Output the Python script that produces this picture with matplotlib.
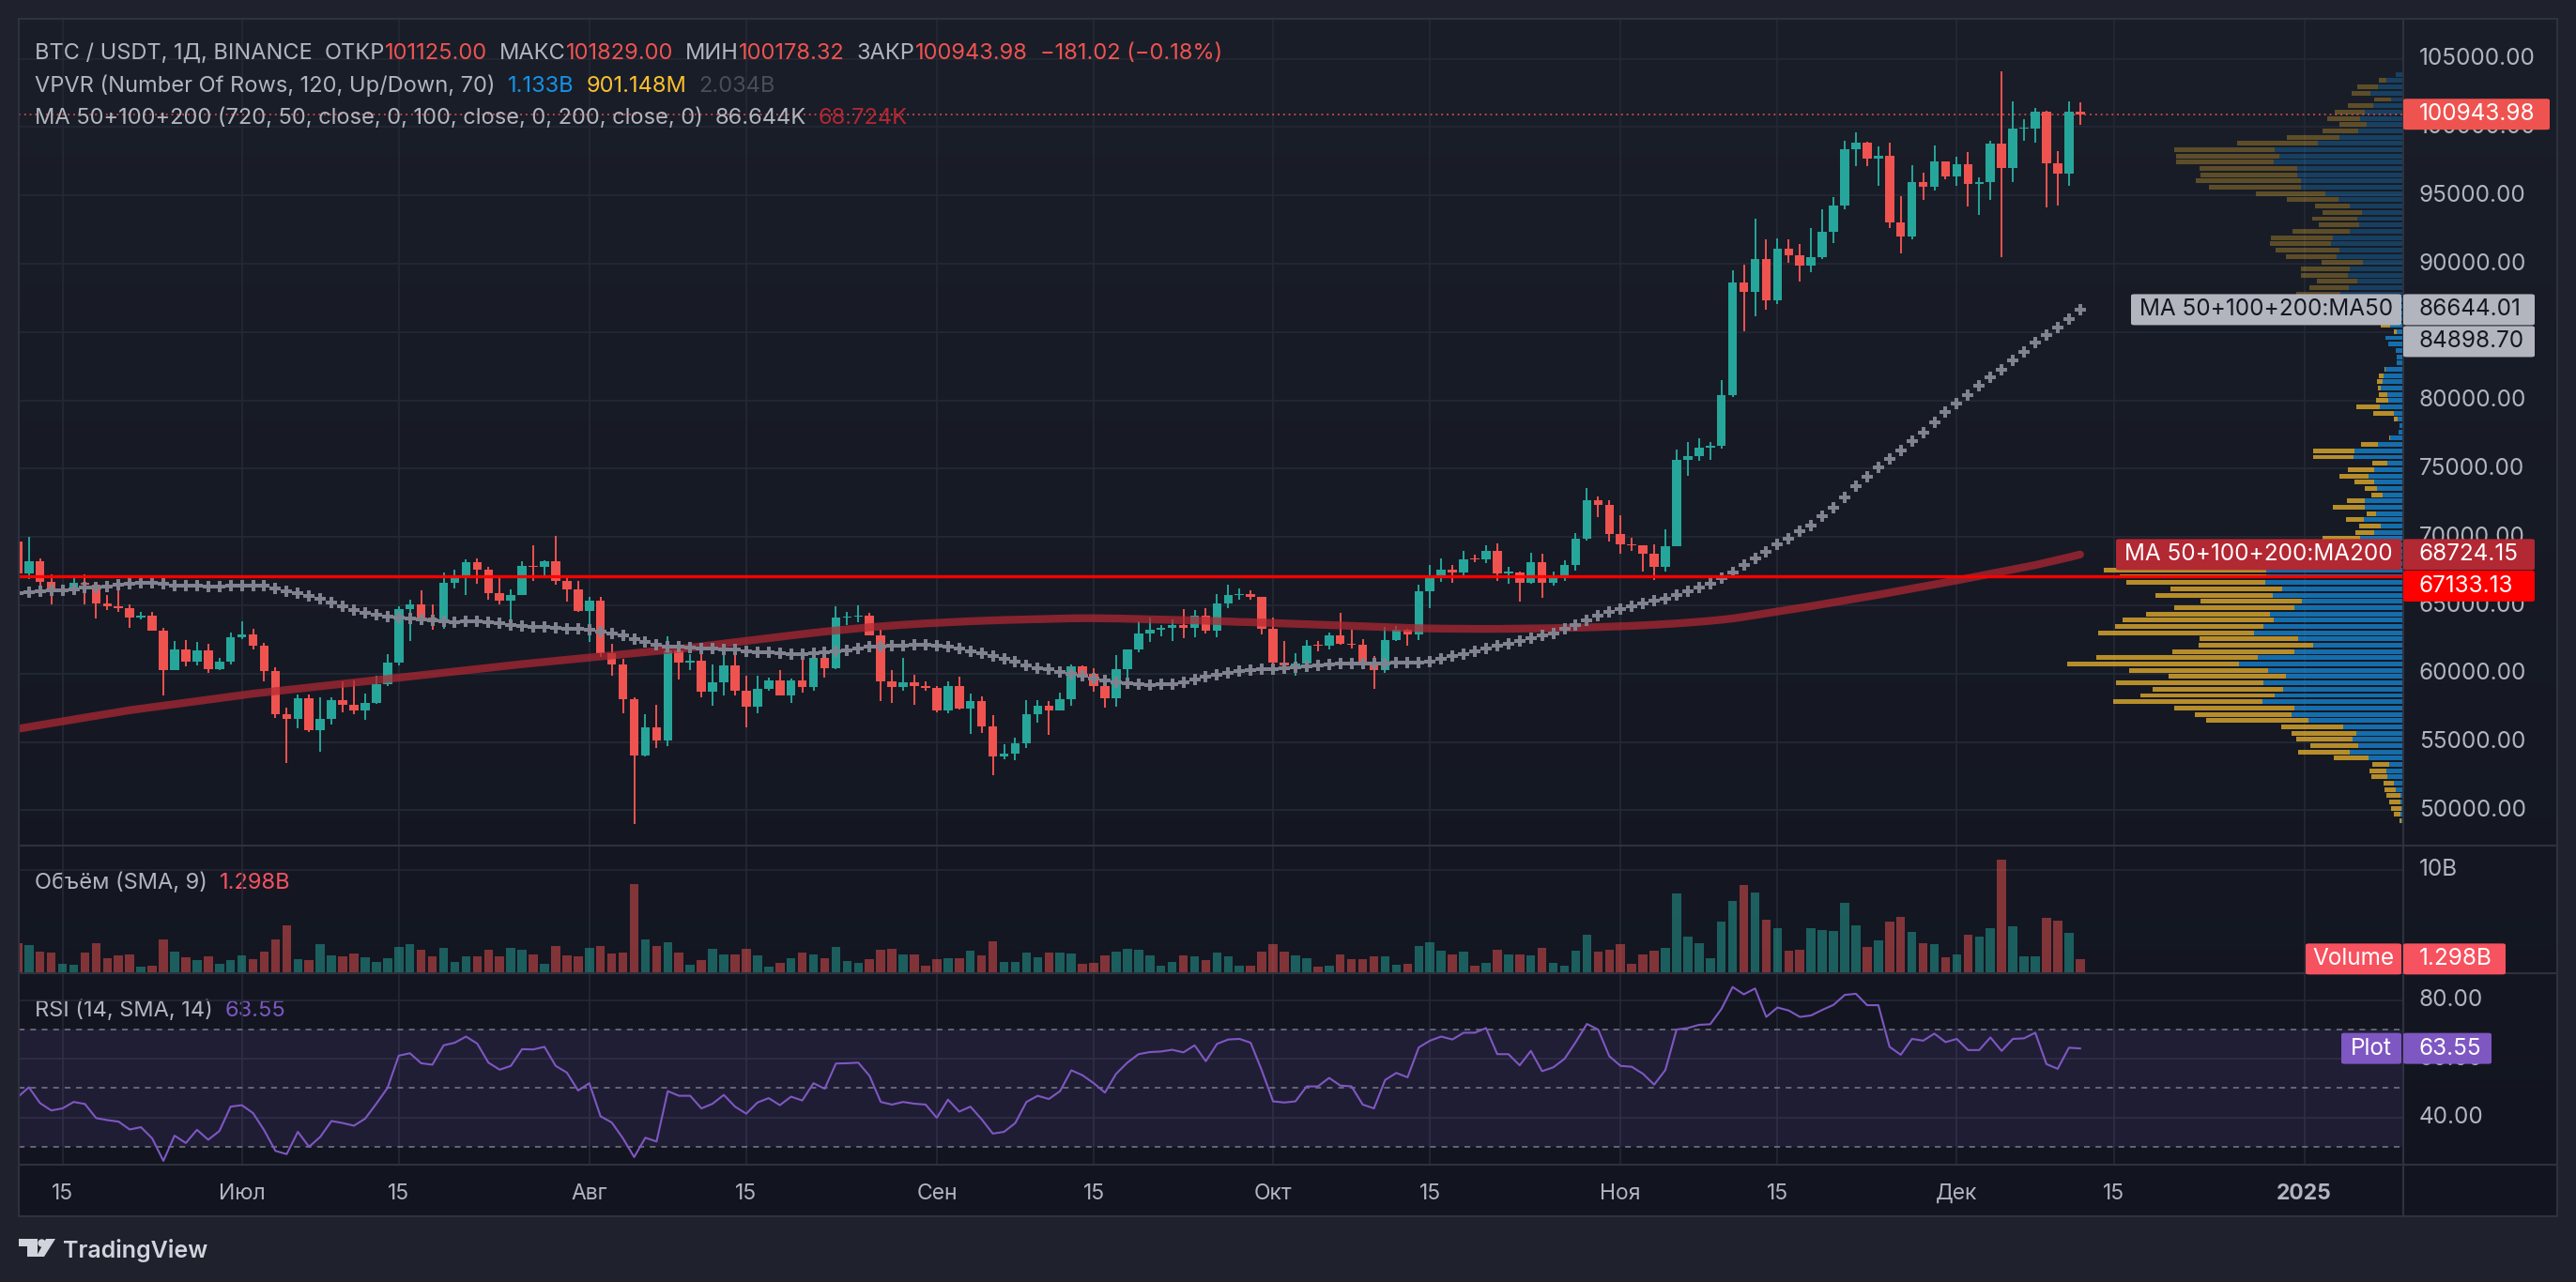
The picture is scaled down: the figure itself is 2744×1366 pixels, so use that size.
import numpy as np
import matplotlib
matplotlib.use("Agg")
import matplotlib.pyplot as plt
from matplotlib.colors import LinearSegmentedColormap, to_rgba
from matplotlib.patches import FancyBboxPatch, Rectangle, Circle, Polygon
from matplotlib.lines import Line2D
import matplotlib.transforms as mtransforms

plt.rcParams['font.family'] = ['Inter', 'DejaVu Sans']

# ---------------- data (BTC/USDT 1D, Binance, 11 Jun - 12 Dec 2024) ----------------
opens = [69650, 67320, 68240, 66750, 66000, 66190, 66640, 66490, 65150, 64960,
         64830, 64100, 64250, 63180, 60280, 61800, 60860, 61680, 60320, 60890,
         62680, 62850, 62030, 60200, 57030, 56660, 58230, 55860, 56710, 58050,
         57720, 57340, 57890, 59200, 60790, 64720, 65040, 64090, 63980, 66660,
         67150, 68170, 67580, 65930, 65370, 65780, 67900, 67810, 68250, 66780,
         66190, 64620, 65350, 61500, 60700, 58160, 54020, 56040, 55130, 61700,
         60840, 60920, 58710, 59350, 60600, 58740, 57560, 58870, 59490, 58440,
         59490, 59010, 61160, 60380, 64090, 64180, 64250, 62830, 59420, 59030,
         59370, 59120, 58970, 57300, 59130, 57480, 57970, 56160, 53960, 54160,
         54880, 57050, 57650, 57340, 58130, 60570, 60000, 59130, 58210, 60310,
         61760, 62950, 63200, 63350, 63580, 63340, 64260, 63150, 65170, 65770,
         65860, 65600, 63300, 60800, 60630, 60750, 62080, 62060, 62820, 62220,
         62130, 60580, 60270, 62450, 63190, 62850, 66050, 67040, 67610, 67400,
         68400, 68360, 69000, 67370, 67380, 66650, 68160, 66640, 67010, 67930,
         69900, 72720, 72340, 70220, 69500, 69370, 68780, 67810, 69360, 75640,
         75900, 76540, 76700, 80370, 88650, 87950, 90380, 87330, 91070, 90590,
         89860, 90460, 92310, 94290, 98370, 98890, 97670, 97900, 93010, 91970,
         95950, 95640, 97460, 96410, 97280, 95860, 96000, 98770, 97000, 99870,
         99920, 101110, 97340, 96590, 101125.00]
highs = [69700, 69990, 68450, 67300, 66400, 66990, 67250, 66560, 65730, 66480,
         65070, 64530, 64500, 63370, 62360, 62480, 62290, 62200, 61130, 63000,
         63850, 63290, 62250, 60500, 57500, 58470, 58450, 58240, 58300, 59470,
         59500, 58530, 59850, 61420, 64900, 65390, 66130, 65100, 67390, 67600,
         68370, 68470, 67810, 67100, 66180, 68240, 69400, 68320, 70080, 66990,
         66800, 65600, 65600, 62200, 61120, 58300, 57040, 57700, 62750, 61800,
         61460, 61860, 60680, 61570, 61800, 59850, 59820, 59690, 60280, 59620,
         61400, 61820, 61420, 64960, 64520, 65000, 64480, 63210, 60230, 61190,
         59940, 59460, 59070, 59430, 59810, 58520, 58330, 56990, 54850, 55320,
         58090, 58040, 57990, 58590, 60670, 60640, 60380, 59210, 61370, 61790,
         63850, 64130, 63560, 64000, 64750, 64690, 64810, 65840, 66500, 66260,
         66080, 65620, 64130, 62390, 61470, 62480, 62370, 62980, 64480, 63200,
         62540, 61320, 63420, 63480, 63290, 66500, 67950, 68420, 67940, 68970,
         68690, 69400, 69520, 67840, 67470, 68840, 68770, 67450, 68330, 70270,
         73620, 72960, 72700, 71630, 69920, 69400, 69490, 70580, 76400, 76950,
         77250, 76950, 81500, 89530, 89940, 93270, 91800, 91850, 91780, 91450,
         92600, 94000, 94900, 98990, 99590, 98900, 98590, 98870, 94970, 97200,
         96650, 98690, 97460, 97840, 98150, 96300, 99000, 104088, 101900, 100550,
         101400, 101200, 98270, 101900, 101829.00]
lows = [66050, 66900, 66300, 65060, 65870, 66000, 65070, 64060, 64690, 64500,
        63380, 63940, 63150, 58400, 60240, 60570, 60630, 60060, 60280, 60680,
        62500, 61760, 59410, 56770, 53485, 56020, 55720, 54260, 56290, 57160,
        57050, 56590, 57770, 59080, 60630, 62380, 63800, 63220, 63300, 66220,
        65730, 66600, 65440, 65100, 63460, 65740, 66800, 67050, 66480, 65300,
        64520, 62300, 61200, 59850, 57120, 49000, 53960, 54560, 54710, 59570,
        60270, 58300, 57640, 58400, 58430, 56080, 57100, 58780, 58420, 57860,
        58610, 58780, 59720, 60350, 63580, 63780, 62800, 58030, 57860, 58780,
        57700, 58740, 57200, 57120, 57410, 55600, 55650, 52550, 53740, 53640,
        54590, 56390, 55550, 57320, 57630, 59420, 58700, 57490, 57610, 59170,
        61560, 62350, 62760, 62360, 62600, 62700, 62950, 62670, 64820, 65420,
        65420, 62860, 60160, 59980, 59830, 60460, 61670, 61800, 62130, 61830,
        60300, 58900, 60050, 62410, 62030, 62440, 64800, 66750, 66660, 67160,
        68160, 68100, 66760, 66570, 65260, 66550, 65520, 66450, 66800, 67530,
        69730, 71440, 69680, 68780, 69020, 67460, 66830, 67450, 69300, 74500,
        75550, 75680, 76490, 80220, 85070, 86130, 86670, 87080, 90060, 88720,
        89380, 90380, 91500, 94000, 97180, 97130, 95730, 92600, 90790, 91820,
        94650, 95360, 96160, 95690, 94200, 93580, 94660, 90500, 95980, 98990,
        98840, 94150, 94260, 95680, 100178.32]
closes = [67320, 68240, 66750, 66000, 66190, 66640, 66490, 65150, 64960, 64830,
          64100, 64250, 63180, 60280, 61800, 60860, 61680, 60320, 60890, 62680,
          62850, 62030, 60200, 57030, 56660, 58230, 55860, 56710, 58050, 57720,
          57340, 57890, 59200, 60790, 64720, 65040, 64090, 63980, 66660, 67150,
          68170, 67580, 65930, 65370, 65780, 67900, 67810, 68250, 66780, 66190,
          64620, 65350, 61500, 60700, 58160, 54020, 56040, 55130, 61700, 60840,
          60920, 58710, 59350, 60600, 58740, 57560, 58870, 59490, 58440, 59490,
          59010, 61160, 60380, 64090, 64180, 64250, 62830, 59420, 59030, 59370,
          59120, 58970, 57300, 59130, 57480, 57970, 56160, 53960, 54160, 54880,
          57050, 57650, 57340, 58130, 60570, 60000, 59130, 58210, 60310, 61760,
          62950, 63200, 63350, 63580, 63340, 64260, 63150, 65170, 65770, 65860,
          65600, 63300, 60800, 60630, 60750, 62080, 62060, 62820, 62220, 62130,
          60580, 60270, 62450, 63190, 62850, 66050, 67040, 67610, 67400, 68400,
          68360, 69000, 67370, 67380, 66650, 68160, 66640, 67010, 67930, 69900,
          72720, 72340, 70220, 69500, 69370, 68780, 67810, 69360, 75640, 75900,
          76540, 76700, 80370, 88650, 87950, 90380, 87330, 91070, 90590, 89860,
          90460, 92310, 94290, 98370, 98890, 97670, 97900, 93010, 91970, 95950,
          95640, 97460, 96410, 97280, 95860, 96000, 98770, 97000, 99870, 99920,
          101110, 97340, 96590, 101125, 100943.98]
# volume in billions
volume_b = [2.84, 2.65, 2.0, 1.92, 0.82, 0.76, 1.92, 2.84, 1.37, 1.68,
            1.74, 0.55, 0.64, 3.2, 2.0, 1.46, 1.19, 1.55, 0.82, 1.19,
            1.65, 1.28, 2.0, 3.2, 4.57, 1.28, 1.19, 2.74, 1.65, 1.55,
            1.83, 1.46, 1.0, 1.37, 2.47, 2.74, 2.2, 1.55, 2.38, 1.0,
            1.55, 1.55, 2.2, 1.55, 2.38, 2.2, 1.74, 0.82, 2.56, 1.65,
            1.55, 2.38, 2.56, 1.83, 1.92, 8.6, 3.2, 2.56, 2.93, 1.92,
            0.73, 1.19, 2.29, 1.74, 1.74, 2.29, 1.65, 0.55, 0.91, 1.37,
            1.92, 1.74, 1.37, 2.47, 1.1, 0.91, 1.28, 2.2, 2.29, 1.74,
            1.74, 0.64, 1.28, 1.37, 1.37, 2.1, 1.65, 3.02, 1.0, 1.0,
            1.92, 1.46, 1.92, 1.92, 1.83, 0.82, 0.91, 1.65, 2.0, 2.29,
            2.2, 1.65, 0.64, 1.0, 1.65, 1.55, 1.19, 1.92, 1.55, 0.64,
            0.64, 2.0, 2.74, 2.0, 1.65, 1.37, 0.55, 0.64, 1.74, 1.28,
            1.28, 1.55, 1.55, 0.73, 0.82, 2.56, 2.93, 2.1, 1.74, 2.0,
            0.64, 0.91, 2.2, 1.74, 1.74, 1.65, 2.38, 0.91, 0.64, 2.1,
            3.66, 2.0, 2.2, 2.74, 0.82, 1.74, 2.1, 2.38, 7.68, 3.48,
            2.84, 1.37, 4.94, 6.95, 8.5, 7.77, 5.12, 4.3, 2.1, 2.2,
            4.3, 4.12, 4.02, 6.77, 4.57, 2.47, 3.11, 4.94, 5.4, 3.93,
            2.84, 2.74, 1.46, 1.74, 3.66, 3.48, 4.3, 10.98, 4.48, 1.55,
            1.55, 5.3, 5.03, 3.84, 1.298]
rsi = [46.9, 50.3, 44.9, 42.4, 43.1, 45.3, 44.6, 39.8, 39.1, 38.6,
       35.9, 36.7, 32.9, 25.2, 33.8, 31.3, 35.8, 32.4, 35.4, 43.7,
       44.2, 41.5, 35.6, 28.6, 27.5, 35.1, 30.0, 33.4, 38.8, 38.1,
       37.2, 39.6, 44.7, 50.1, 61.1, 61.9, 58.5, 58.0, 64.6, 65.5,
       67.6, 65.2, 58.7, 56.3, 57.6, 63.3, 63.2, 64.1, 57.6, 55.3,
       49.2, 51.7, 40.4, 38.3, 32.9, 26.5, 33.1, 31.8, 49.0, 47.4,
       47.4, 43.1, 44.7, 47.7, 43.7, 41.3, 45.1, 46.6, 44.2, 47.1,
       45.8, 51.7, 49.8, 58.4, 58.5, 58.7, 54.2, 45.3, 44.4, 45.3,
       44.7, 44.4, 39.9, 46.1, 42.0, 43.7, 39.4, 34.5, 35.1, 38.1,
       45.3, 47.4, 46.3, 49.0, 56.1, 54.4, 51.7, 48.5, 54.9, 58.7,
       61.6, 62.3, 62.5, 63.1, 62.2, 64.6, 59.2, 65.1, 66.6, 66.8,
       65.5, 56.0, 45.5, 45.1, 45.5, 50.6, 50.6, 53.5, 50.9, 50.6,
       44.4, 43.1, 52.8, 55.2, 53.7, 63.9, 66.2, 67.6, 66.6, 68.9,
       68.9, 70.5, 61.6, 61.6, 57.8, 62.7, 55.8, 57.1, 60.0, 65.7,
       71.9, 70.0, 60.9, 57.6, 57.3, 54.9, 51.2, 56.2, 70.0, 70.5,
       71.6, 71.8, 77.0, 84.5, 82.0, 84.0, 74.3, 77.5, 76.5, 74.3,
       74.8, 76.7, 78.4, 81.8, 82.2, 78.3, 78.3, 64.1, 61.4, 66.8,
       66.2, 68.6, 65.7, 66.8, 63.0, 63.0, 67.3, 62.7, 66.8, 67.0,
       68.9, 58.2, 56.6, 63.8, 63.55]
ma50 = [65900, 65940, 66000, 66100, 66120, 66190, 66280, 66330, 66390, 66510,
        66550, 66620, 66640, 66580, 66460, 66420, 66420, 66370, 66370, 66440,
        66460, 66460, 66450, 66230, 66050, 65890, 65710, 65480, 65210, 64910,
        64680, 64450, 64290, 64180, 64130, 64040, 63950, 63900, 63840, 63790,
        63810, 63810, 63770, 63680, 63560, 63490, 63450, 63450, 63380, 63310,
        63270, 63200, 63080, 62950, 62810, 62560, 62310, 62120, 62010, 61960,
        61900, 61850, 61830, 61800, 61760, 61670, 61600, 61550, 61510, 61440,
        61440, 61480, 61550, 61670, 61710, 61850, 61960, 62010, 62060, 62060,
        62120, 62120, 62060, 62010, 61850, 61670, 61480, 61320, 61100, 60870,
        60640, 60410, 60300, 60140, 59960, 59840, 59660, 59500, 59380, 59270,
        59250, 59160, 59200, 59250, 59380, 59610, 59770, 59950, 60070, 60170,
        60240, 60310, 60360, 60400, 60490, 60540, 60630, 60700, 60770, 60770,
        60770, 60770, 60770, 60780, 60780, 60790, 60860, 61090, 61270, 61450,
        61640, 61840, 62030, 62190, 62370, 62600, 62780, 62940, 63290, 63580,
        63900, 64250, 64500, 64730, 64920, 65130, 65330, 65510, 65780, 66040,
        66310, 66600, 66970, 67400, 67930, 68420, 68910, 69450, 69910, 70450,
        70870, 71500, 72120, 72900, 73760, 74420, 75100, 75710, 76320, 76990,
        77670, 78400, 79140, 79750, 80410, 81090, 81700, 82240, 82930, 83540,
        84220, 84760, 85320, 85980, 86644.01]
ma200 = [55960, 56100, 56240, 56380, 56510, 56650, 56790, 56920, 57060, 57190,
         57330, 57440, 57550, 57660, 57770, 57880, 57990, 58100, 58210, 58320,
         58430, 58540, 58630, 58720, 58810, 58900, 58990, 59080, 59170, 59260,
         59350, 59440, 59530, 59620, 59710, 59800, 59890, 59980, 60070, 60160,
         60250, 60340, 60430, 60520, 60610, 60700, 60780, 60860, 60940, 61020,
         61100, 61180, 61260, 61340, 61420, 61500, 61580, 61660, 61740, 61820,
         61900, 62000, 62100, 62200, 62300, 62400, 62500, 62600, 62700, 62800,
         62900, 62990, 63080, 63160, 63240, 63320, 63400, 63460, 63520, 63580,
         63630, 63680, 63720, 63760, 63800, 63840, 63870, 63900, 63930, 63950,
         63970, 63990, 64010, 64030, 64050, 64060, 64060, 64050, 64040, 64020,
         64000, 63980, 63960, 63940, 63920, 63900, 63880, 63850, 63820, 63790,
         63770, 63740, 63710, 63680, 63650, 63620, 63590, 63560, 63530, 63500,
         63470, 63440, 63410, 63380, 63350, 63330, 63310, 63300, 63290, 63290,
         63280, 63280, 63280, 63290, 63300, 63310, 63320, 63330, 63350, 63370,
         63390, 63410, 63440, 63470, 63500, 63540, 63580, 63630, 63680, 63740,
         63800, 63870, 63950, 64040, 64160, 64290, 64420, 64550, 64680, 64810,
         64940, 65080, 65220, 65360, 65500, 65640, 65780, 65930, 66080, 66230,
         66380, 66530, 66680, 66830, 66990, 67150, 67310, 67470, 67630, 67790,
         67950, 68140, 68330, 68520, 68724.15]
# VPVR: 120 rows from lowest low to highest high, bottom -> top (relative volume)
vp_up = [1.7, 2.7, 1.7, 3.3, 3.3, 7.7, 10, 16, 17, 14.3,
         35.7, 54.7, 46, 51.7, 48, 61.3, 97.3, 114, 111.3, 144,
         131.3, 122.7, 143, 120, 138.3, 168, 148.7, 111.3, 92.3, 108,
         152.7, 143, 132.3, 136.3, 111.3, 103.7, 133.3, 123.7, 141, 140,
         140, 130, 110, 90, 60, 44, 29.3, 22.7, 40.3, 27.7,
         39.3, 39.3, 20.7, 26.7, 29.7, 35.3, 29.7, 16, 50.7, 49.7,
         25.7, 13.3, 4.7, 3.7, 5.7, 10, 24, 15.7, 16.7, 22.7,
         21, 20, 18, 6.7, 6.7, 7.7, 15.3, 18, 6.7, 13,
         18, 22, 28, 40, 64.3, 55.7, 47, 56.7, 54.7, 41,
         68, 65, 73.7, 72, 54.7, 45, 47, 42, 54.7, 66,
         79.7, 104.7, 104.7, 108.3, 108.3, 132.3, 126.7, 131.3, 87.3, 65,
         46, 37.3, 44, 39.3, 30.7, 12.3, 33.3, 25.7, 17, 7.7]
vp_down = [2.6, 7.3, 10.6, 11.0, 13.7, 11.3, 10.0, 16.3, 17.3, 17.4,
           35.3, 52.6, 49.0, 57.6, 66.0, 63.4, 104.4, 99.0, 123.0, 152.7,
           137.7, 133.6, 150.7, 120.0, 142.0, 175.7, 165.3, 125.0, 117.0, 100.3,
           159.3, 151.7, 154.7, 126.7, 123.0, 103.6, 120.0, 114.3, 142.3, 150,
           166.3, 140, 120, 90, 60, 38.3, 19.4, 22.3, 18.0, 9.6,
           32.7, 18.0, 11.6, 12.6, 20.0, 29.7, 27.0, 15.7, 41.3, 42.3,
           17.3, 1.0, 0, 0, 3.6, 20.7, 24, 12, 8, 3,
           5.7, 4.7, 1, 0, 0, 0, 0, 0, 2.6, 9.7,
           12, 18, 22, 30, 45, 40.3, 41.3, 48, 50, 42.3,
           52, 66, 62.3, 63.3, 58.6, 41.3, 46, 40.3, 35.3, 53,
           71, 94, 107.3, 99, 100, 100, 105.6, 103, 82.7, 54,
           36.3, 27.7, 33.7, 30.7, 26, 17.4, 19.4, 21.3, 7.7, 0]
vp_value_area_top = 83          # rows above this index are outside the value area
level_price = 67133.13          # horizontal line
ma100_last = 84898.70
price_ticks = [50000, 55000, 60000, 65000, 70000, 75000, 80000, 85000, 90000, 95000, 100000, 105000]
price_ticks_hidden = [85000]    # label fully covered by the MA tags
time_ticks = [4, 20, 34, 51, 65, 82, 96, 112, 126, 143, 157, 173, 187, 204]
time_labels = ["15", "Июл", "15", "Авг", "15", "Сен", "15", "Окт", "15", "Ноя", "15", "Дек", "15", "2025"]

# ---------------- layout (pixels) ----------------
W, H = 2744, 1366
FR_L, FR_T, FR_R, FR_B = 20, 20, 2724, 1296
PANE_R = 2560
P_B, V_B, R_B = 901, 1037, 1241
AX_TXT = 2577
PX_PER_BAR = 11.94

TXT = '#b2b5be'
GRID = '#252935'
SEP = '#2e323e'
UP, DN = '#26a69a', '#ef5350'

fig = plt.figure(figsize=(W / 100, H / 100), dpi=100)
fig.patch.set_facecolor('#1f222c')


def rect(x0, y0, x1, y1):
    return [x0 / W, 1 - y1 / H, (x1 - x0) / W, (y1 - y0) / H]


bg = fig.add_axes(rect(FR_L, FR_T, FR_R, FR_B), zorder=-10)
bg.imshow(np.linspace(0, 1, 256)[:, None], aspect='auto',
          cmap=LinearSegmentedColormap.from_list('bg', ['#1a1e29', '#121520']),
          extent=[0, 1, 0, 1])
bg.axis('off')

axp = fig.add_axes(rect(FR_L, FR_T, PANE_R, P_B))
axv = fig.add_axes(rect(FR_L, P_B, PANE_R, V_B))
axr = fig.add_axes(rect(FR_L, V_B, PANE_R, R_B))
XL = (0.1, (PANE_R - 18.8) / PX_PER_BAR)
for ax in (axp, axv, axr):
    ax.set_facecolor('none')
    for s in ax.spines.values():
        s.set_visible(False)
    ax.set_xticks([])
    ax.set_yticks([])
    ax.set_xlim(*XL)
    for t in time_ticks:
        ax.axvline(t, color=GRID, lw=1.2, zorder=0)

axp.set_ylim(47420, 107930)
axv.set_ylim(-0.09, 12.35)
axr.set_ylim(23.9, 89.2)

idx = np.arange(len(closes))
o = np.array(opens, float)
c = np.array(closes, float)
hi = np.array(highs, float)
lo = np.array(lows, float)
up = c >= o
cols = np.where(up, UP, DN)

# ---- price pane ----
for p in price_ticks:
    axp.axhline(p, color=GRID, lw=1.2, zorder=0)

# VPVR
n_rows = len(vp_up)
edges = np.linspace(lo.min(), hi.max(), n_rows + 1)
centers = (edges[:-1] + edges[1:]) / 2
row_h = edges[1] - edges[0]
vu = np.array(vp_up)
vd = np.array(vp_down)
scale = (358 / PX_PER_BAR) / (vu + vd).max()
wu, wd = vu * scale, vd * scale
in_va = np.arange(n_rows) <= vp_value_area_top
cu = [to_rgba('#1592e6', 0.7 if v else 0.3) for v in in_va]
cd = [to_rgba('#fbc02d', 0.7 if v else 0.3) for v in in_va]
axp.barh(centers, wu, left=XL[1] - wu, height=row_h * 0.74, color=cu, lw=0, zorder=1.5)
axp.barh(centers, wd, left=XL[1] - wu - wd, height=row_h * 0.74, color=cd, lw=0, zorder=1.5)

axp.axhline(closes[-1], color=DN, lw=1.1, ls=(0, (1.2, 2.6)), zorder=2)

axp.vlines(idx, lo, hi, colors=cols, lw=1.4, zorder=3)
body_lo = np.minimum(o, c)
body_h = np.maximum(np.abs(c - o), 90)
axp.bar(idx, body_h, bottom=body_lo, width=0.8, color=cols, lw=0, zorder=3.5)

axp.plot(idx, ma200, color='#b22833', alpha=0.72, lw=6, solid_capstyle='round', zorder=4)
axp.plot(idx, ma50, ls='none', marker='P', ms=8.6, mew=0, color='#80838f', zorder=4.5)
axp.axhline(level_price, color='#ff0000', lw=2.4, zorder=5)

# ---- volume pane ----
axv.axhline(10, color=GRID, lw=1.2, zorder=0)
vcols = [to_rgba(UP if u else DN, 0.5) for u in up]
axv.bar(idx, volume_b, width=0.8, color=vcols, lw=0, zorder=2)

# ---- RSI pane ----
for g in (40, 60, 80):
    axr.axhline(g, color=GRID, lw=1.2, zorder=0)
axr.axhspan(30, 70, color='#7e57c2', alpha=0.13, lw=0, zorder=0.5)
for g in (30, 50, 70):
    axr.axhline(g, color='#787b86', lw=1.1, ls=(0, (4, 4)), zorder=1)
axr.plot(idx, rsi, color='#7e57c2', lw=1.5, zorder=3)


# ---- frame / separators ----
def hline(y, x0, x1, color=SEP, lw=1.5):
    fig.add_artist(Line2D([x0 / W, x1 / W], [1 - y / H, 1 - y / H], color=color, lw=lw,
                          transform=fig.transFigure, zorder=2))


def vline(x, y0, y1, color=SEP, lw=1.5):
    fig.add_artist(Line2D([x / W, x / W], [1 - y0 / H, 1 - y1 / H], color=color, lw=lw,
                          transform=fig.transFigure, zorder=2))


for y in (P_B, V_B, R_B):
    hline(y, FR_L, FR_R)
hline(FR_T, FR_L, FR_R)
hline(FR_B, FR_L, FR_R)
vline(FR_L, FR_T, FR_B)
vline(FR_R, FR_T, FR_B)
vline(PANE_R, FR_T, FR_B)

# ---- axis labels ----
AXF = 17.5
TIMEF = 16.5
trp = mtransforms.blended_transform_factory(fig.transFigure, axp.transData)
for p in price_ticks:
    if p in price_ticks_hidden:
        continue
    fig.text(AX_TXT / W, p, f"{p:.2f}", transform=trp, color=TXT, fontsize=AXF, va='center', zorder=3)
trv = mtransforms.blended_transform_factory(fig.transFigure, axv.transData)
fig.text(AX_TXT / W, 10, "10B", transform=trv, color=TXT, fontsize=AXF, va='center', zorder=3)
trr = mtransforms.blended_transform_factory(fig.transFigure, axr.transData)
for g in (80, 60, 40):
    fig.text(AX_TXT / W, g, f"{g:.2f}", transform=trr, color=TXT, fontsize=AXF, va='center', zorder=3)

trt = mtransforms.blended_transform_factory(axr.transData, fig.transFigure)
for t, lab in zip(time_ticks, time_labels):
    fig.text(t, 1 - 1278 / H, lab, transform=trt, color=TXT, fontsize=TIMEF, ha='center',
             va='baseline', fontweight='bold' if lab == '2025' else 'normal', zorder=3)


# ---- price-axis tags ----
def tag(ax, value, x0, x1, text, fc, tc, dy=0, center=False):
    yd = ax.transData.transform((0, value))[1] - dy
    h = 33
    fig.add_artist(FancyBboxPatch((x0 / W, (yd - h / 2) / H), (x1 - x0) / W, h / H,
                                  boxstyle='round,pad=0,rounding_size=0.0012',
                                  transform=fig.transFigure, fc=fc, ec='none', zorder=6))
    if center:
        fig.text((x0 + x1) / 2 / W, yd / H, text, color=tc, fontsize=AXF, ha='center', va='center', zorder=7)
    else:
        fig.text(AX_TXT / W, yd / H, text, color=tc, fontsize=AXF, ha='left', va='center', zorder=7)


tag(axp, closes[-1], 2560, 2716, f"{closes[-1]:.2f}", '#ef5350', 'white')
tag(axp, ma50[-1], 2270, 2558, "MA 50+100+200:MA50", '#b2b5be', '#131722', center=True)
tag(axp, ma50[-1], 2560, 2700, f"{ma50[-1]:.2f}", '#b2b5be', '#131722')
tag(axp, ma100_last, 2560, 2700, f"{ma100_last:.2f}", '#b2b5be', '#131722', dy=8.6)
tag(axp, ma200[-1], 2254, 2558, "MA 50+100+200:MA200", '#b22833', 'white', center=True)
tag(axp, ma200[-1], 2560, 2700, f"{ma200[-1]:.2f}", '#b22833', 'white')
tag(axp, level_price, 2560, 2700, f"{level_price:.2f}", '#ff0000', 'white', dy=10.5)
tag(axv, volume_b[-1], 2456, 2558, "Volume", '#f7525f', 'white', center=True)
tag(axv, volume_b[-1], 2560, 2669, f"{volume_b[-1]:.3f}B", '#f7525f', 'white')
tag(axr, rsi[-1], 2494, 2558, "Plot", '#7e57c2', 'white', center=True)
tag(axr, rsi[-1], 2560, 2654, f"{rsi[-1]:.2f}", '#7e57c2', 'white')

# ---- legends ----
LEGF = 17
GAP = 13


def legend_line(base_px, pieces):
    prev = None
    for txt, color, gap in pieces:
        if prev is None:
            prev = axp.annotate(txt, xy=(37, H - base_px), xycoords='figure pixels', color=color,
                                fontsize=LEGF, va='baseline', ha='left', annotation_clip=False, zorder=8)
        else:
            prev = axp.annotate(txt, xy=(1, 0), xycoords=prev, xytext=(gap, 0), textcoords='offset pixels',
                                color=color, fontsize=LEGF, va='bottom', ha='left', annotation_clip=False, zorder=8)


RED = '#ef5350'
chg = closes[-1] - opens[-1]
legend_line(63, [("BTC / USDT, 1Д, BINANCE", TXT, 0), ("ОТКР", TXT, GAP), (f"{opens[-1]:.2f}", RED, 0),
                 ("МАКС", TXT, GAP), (f"{highs[-1]:.2f}", RED, 0), ("МИН", TXT, GAP), (f"{lows[-1]:.2f}", RED, 0),
                 ("ЗАКР", TXT, GAP), (f"{closes[-1]:.2f}", RED, 0),
                 (f"\u2212{abs(chg):.2f} (\u2212{abs(chg) / opens[-1] * 100:.2f}%)", RED, GAP)])
legend_line(98, [("VPVR (Number Of Rows, 120, Up/Down, 70)", TXT, 0), ("1.133B", '#1592e6', GAP),
                 ("901.148M", '#fbc02d', GAP), ("2.034B", '#4a4d57', GAP)])
legend_line(132, [("MA 50+100+200 (720, 50, close, 0, 100, close, 0, 200, close, 0)", TXT, 0),
                  ("86.644K", TXT, GAP), ("68.724K", '#b22833', GAP)])
legend_line(947, [("Объём (SMA, 9)", TXT, 0), (f"{volume_b[-1]:.3f}B", '#f7525f', GAP)])
legend_line(1083, [("RSI (14, SMA, 14)", TXT, 0), (f"{rsi[-1]:.2f}", '#7e57c2', GAP)])

# ---- TradingView logo ----
LOGO = '#d1d4dc'


def px_rect(x0, y0, x1, y1):
    fig.add_artist(Rectangle((x0 / W, 1 - y1 / H), (x1 - x0) / W, (y1 - y0) / H,
                             transform=fig.transFigure, fc=LOGO, ec='none'))


px_rect(20, 1320, 40, 1327.5)
px_rect(29, 1320, 40, 1339)
fig.add_artist(Polygon([(49 / W, 1 - 1320 / H), (59 / W, 1 - 1320 / H), (47 / W, 1 - 1339 / H),
                        (38.5 / W, 1 - 1339 / H)], closed=True, transform=fig.transFigure, fc=LOGO, ec='none'))
fig.add_artist(Circle((0, 0), 1, fc=LOGO, ec='none',
                      transform=mtransforms.Affine2D().scale(4.2).translate(44.5, H - 1324.5)))
fig.text(67 / W, 1 - 1340 / H, "TradingView", color=LOGO, fontsize=18, fontweight='semibold',
         va='baseline', ha='left')

fig.savefig("out.png", dpi=100, facecolor=fig.get_facecolor())
